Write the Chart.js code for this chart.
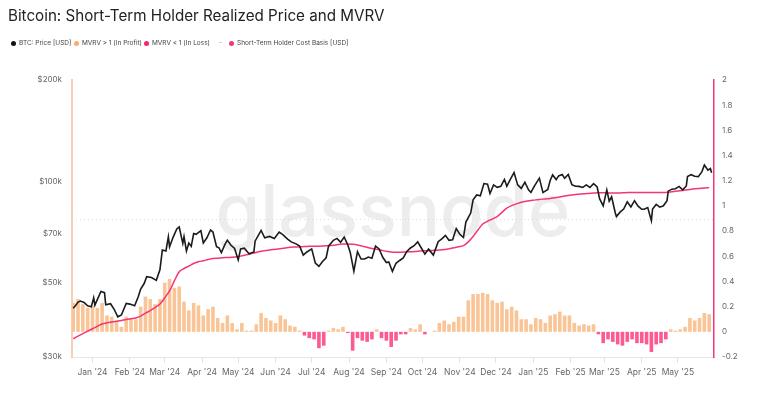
<!DOCTYPE html>
<html>
<head>
<meta charset="utf-8">
<script src="https://cdn.jsdelivr.net/npm/chart.js@4.4.1/dist/chart.umd.min.js"></script>
<style>
  html, body { margin: 0; padding: 0; background: #fff; }
  body { width: 758px; height: 396px; position: relative; overflow: hidden; font-family: Inter, "Open Sans", sans-serif; }
  #chart { position: absolute; left: 0; top: 0; }
  #title { position: absolute; left: 8px; top: 6px; font-size: 15.2px; color: #222; white-space: nowrap; }
  #legend { position: absolute; left: 0; top: 39px; font-size: 6.5px; color: #444; }
  .item { position: absolute; top: 0; white-space: nowrap; display: flex; align-items: center; height: 8px; }
  .dot { width: 5px; height: 5px; border-radius: 50%; margin-right: 3px; }
</style>
</head>
<body>
<canvas id="chart" width="758" height="396"></canvas>
<div id="title">Bitcoin: Short-Term Holder Realized Price and MVRV</div>
<div id="legend">
  <div class="item" style="left:11px"><span class="dot" style="background:#111"></span>BTC: Price [USD]</div>
  <div class="item" style="left:74px"><span class="dot" style="background:#f7ae6b"></span>MVRV &gt; 1 (In Profit)</div>
  <div class="item" style="left:144px"><span class="dot" style="background:#ff1f6e"></span>MVRV &lt; 1 (In Loss)</div>
  <div class="item" style="left:219px"><span style="margin-right:7px;color:#888">-</span><span class="dot" style="background:#f2357c"></span>Short-Term Holder Cost Basis [USD]</div>
</div>
<script>
// Day 0 = 16 Dec 2023. Prices in USD thousands.
const priceDays = [
  0, 2, 4, 6, 9, 12, 15, 17, 18, 23, 26, 27, 31, 34, 37, 40, 44, 47, 51, 54,
  56, 59, 61, 65, 69, 72, 74, 77, 79, 80, 83, 86, 88, 91, 92, 94, 96, 98, 100, 102,
  106, 108, 111, 114, 116, 119, 121, 123, 126, 128, 131, 134, 137, 139, 142, 146, 150, 151, 156, 159,
  163, 167, 171, 174, 178, 181, 185, 188, 191, 194, 198, 201, 204, 207, 210, 212, 216, 219, 222, 225,
  228, 230, 233, 236, 239, 242, 245, 248, 251, 254, 257, 260, 262, 265, 268, 271, 274, 277, 280, 283,
  286, 289, 292, 295, 299, 303, 306, 309, 312, 315, 318, 321, 324, 326, 330, 332, 335, 338, 341, 344,
  346, 349, 352, 355, 358, 360, 363, 366, 369, 372, 375, 378, 380, 383, 387, 390, 394, 396, 398, 401,
  403, 406, 408, 411, 414, 417, 420, 423, 426, 429, 432, 435, 437, 440, 443, 445, 447, 450, 451, 454,
  457, 460, 463, 466, 469, 472, 474, 477, 480, 481, 484, 487, 490, 493, 494, 497, 500, 503, 506, 509,
  510, 513, 516, 519, 522, 524, 527, 529, 530
];
const priceValues = [
  41.9, 42.7, 43.7, 44.0, 43.6, 42.6, 42.3, 45.0, 42.8, 47.0, 46.6, 42.9, 43.2, 41.6, 39.5, 40.0, 43.3, 43.1, 42.6, 45.3,
  47.8, 49.7, 52.0, 51.7, 50.7, 54.5, 62.4, 62.0, 68.3, 63.8, 68.2, 72.1, 73.1, 65.3, 68.4, 62.0, 65.5, 64.0, 69.9, 69.5,
  71.3, 65.5, 67.9, 71.6, 70.6, 63.9, 63.4, 61.3, 64.9, 66.8, 64.5, 63.1, 58.3, 62.9, 63.2, 60.8, 61.6, 66.3, 71.4, 67.9,
  68.5, 67.5, 70.6, 69.4, 67.3, 66.0, 65.1, 64.1, 60.3, 61.6, 62.9, 57.1, 55.8, 57.7, 59.2, 64.1, 66.7, 67.6, 65.8, 68.2,
  64.6, 61.4, 54.0, 61.7, 58.7, 58.7, 59.5, 59.0, 64.1, 62.9, 59.4, 57.3, 57.5, 53.9, 57.0, 58.1, 59.1, 61.8, 63.3, 64.3,
  66.0, 63.3, 60.7, 62.8, 60.3, 66.1, 67.4, 69.0, 66.7, 67.0, 72.3, 69.5, 68.0, 75.6, 80.4, 88.0, 91.0, 90.5, 98.4, 98.0,
  91.9, 97.5, 95.9, 96.6, 101.2, 96.6, 101.4, 106.1, 97.5, 95.2, 99.3, 94.3, 92.6, 96.9, 102.1, 92.5, 94.5, 100.5, 104.4, 101.1,
  103.7, 104.7, 102.0, 104.7, 97.7, 96.6, 96.5, 95.8, 97.5, 95.8, 98.3, 96.1, 88.7, 84.4, 94.2, 87.2, 89.9, 80.6, 78.5, 80.9,
  82.6, 86.8, 83.8, 87.5, 84.3, 82.5, 82.5, 83.5, 76.3, 82.6, 85.3, 83.7, 84.5, 87.5, 93.4, 94.7, 95.0, 96.5, 94.3, 96.8,
  103.2, 104.6, 103.5, 103.2, 106.8, 111.7, 107.8, 109.0, 106.0
];

// Cost basis and MVRV bars sampled every 4 days from day 0.
const sampleStep = 4;
const costValues = [
  34.0, 34.6, 35.2, 35.8, 36.4, 37.0, 37.6, 37.9, 38.1, 38.3,
  38.5, 38.8, 39.0, 39.2, 39.7, 40.5, 41.2, 42.1, 43.1, 45.0,
  47.2, 50.5, 53.8, 55.0, 55.9, 56.9, 57.6, 58.0, 58.5, 58.9,
  59.0, 59.2, 59.3, 59.4, 59.6, 60.0, 60.4, 60.9, 61.4, 61.9,
  62.2, 62.5, 62.8, 63.0, 63.3, 63.6, 63.7, 63.8, 63.9, 64.0,
  64.1, 64.1, 64.2, 64.3, 64.5, 64.8, 65.0, 65.1, 64.9, 64.6,
  64.1, 63.6, 63.1, 62.7, 62.3, 61.9, 61.6, 61.5, 61.5, 61.6,
  61.7, 61.8, 62.0, 62.1, 62.2, 62.3, 62.4, 62.6, 63.0, 63.4,
  63.8, 64.3, 66.0, 68.5, 71.6, 74.6, 76.0, 77.2, 78.5, 80.8,
  83.2, 84.6, 85.6, 86.6, 87.2, 87.6, 88.0, 88.3, 88.6, 88.9,
  89.3, 89.8, 90.3, 90.8, 91.2, 91.5, 91.8, 92.0, 92.2, 92.4,
  92.4, 92.3, 92.2, 92.2, 92.4, 92.5, 92.6, 92.6, 92.6, 92.6,
  92.6, 92.6, 92.6, 92.6, 92.9, 93.3, 93.7, 94.1, 94.5, 94.9,
  95.2, 95.5, 95.7
];
const mvrvValues = [
  0.23, 0.26, 0.22, 0.19, 0.21, 0.19, 0.23, 0.13, 0.12, 0.09,
  0.04, 0.12, 0.11, 0.10, 0.20, 0.28, 0.26, 0.22, 0.26, 0.39,
  0.42, 0.35, 0.36, 0.24, 0.17, 0.23, 0.21, 0.13, 0.18, 0.20,
  0.11, 0.07, 0.13, 0.07, 0.02, 0.07, 0.01, 0.01, 0.06, 0.15,
  0.11, 0.09, 0.07, 0.13, 0.10, 0.05, 0.04, 0.01, -0.03, -0.05,
  -0.06, -0.13, -0.11, 0.01, 0.03, 0.02, 0.04, -0.01, -0.15, -0.05,
  -0.07, -0.08, -0.06, 0.02, -0.05, -0.07, -0.12, -0.07, -0.02, -0.02,
  0.03, 0.02, 0.06, -0.02, 0.00, 0.01, 0.07, 0.09, 0.06, 0.08,
  0.12, 0.12, 0.25, 0.30, 0.30, 0.31, 0.30, 0.25, 0.23, 0.24,
  0.18, 0.20, 0.17, 0.10, 0.10, 0.06, 0.11, 0.10, 0.07, 0.13,
  0.14, 0.16, 0.13, 0.13, 0.07, 0.05, 0.06, 0.05, 0.06, -0.02,
  -0.09, -0.06, -0.08, -0.10, -0.11, -0.08, -0.06, -0.09, -0.09, -0.10,
  -0.16, -0.10, -0.09, -0.06, 0.02, 0.01, 0.02, 0.04, 0.11, 0.09,
  0.11, 0.15, 0.14
];

// axis ticks
const tickDays = [16, 47, 76, 107, 137, 168, 198, 229, 260, 290, 321, 351, 382, 413, 441, 472, 502];
const tickLabels = ["Jan '24", "Feb '24", "Mar '24", "Apr '24", "May '24", "Jun '24", "Jul '24", "Aug '24", "Sep '24",
  "Oct '24", "Nov '24", "Dec '24", "Jan '25", "Feb '25", "Mar '25", "Apr '25", "May '25"];
const leftTicks = [30, 50, 70, 100, 200];
const rightTicks = [-0.2, 0, 0.2, 0.4, 0.6, 0.8, 1, 1.2, 1.4, 1.6, 1.8, 2];
const guideLevel = 0.9;

const pricePoints = priceDays.map((d, i) => ({ x: d, y: priceValues[i] }));
const costPoints = costValues.map((v, i) => ({ x: i * sampleStep, y: v }));
const profitPoints = mvrvValues.map((v, i) => ({ x: i * sampleStep, y: v >= 0 ? v : null }));
const lossPoints = mvrvValues.map((v, i) => ({ x: i * sampleStep, y: v < 0 ? v : null }));

const watermark = {
  id: 'watermark',
  beforeDatasetsDraw(chart) {
    const { ctx, chartArea: a } = chart;
    ctx.save();
    ctx.font = '500 72px Inter, sans-serif';
    ctx.fillStyle = '#ededed';
    ctx.textAlign = 'center';
    ctx.textBaseline = 'alphabetic';
    ctx.fillText('glassnode', (a.left + a.right) / 2, (a.top + a.bottom) / 2 + 17);
    // faint dotted guide
    const y = Math.round(chart.scales.y1.getPixelForValue(guideLevel)) + 0.5;
    ctx.strokeStyle = '#dcdcdc';
    ctx.lineWidth = 1;
    ctx.setLineDash([1, 3]);
    ctx.beginPath();
    ctx.moveTo(a.left, y);
    ctx.lineTo(a.right, y);
    ctx.stroke();
    ctx.restore();
  }
};

const axisFont = { family: 'Inter, sans-serif', size: 8 };

new Chart(document.getElementById('chart'), {
  type: 'bar',
  data: {
    datasets: [
      { type: 'line', label: 'BTC: Price [USD]', data: pricePoints, yAxisID: 'y',
        borderColor: '#1b1b1b', borderWidth: 1.6, pointRadius: 0, tension: 0, order: 1 },
      { type: 'line', label: 'Short-Term Holder Cost Basis [USD]', data: costPoints, yAxisID: 'y',
        borderColor: '#f2357c', borderWidth: 1.5, pointRadius: 0, tension: 0.3, order: 2 },
      { type: 'bar', label: 'MVRV > 1 (In Profit)', data: profitPoints, yAxisID: 'y1',
        backgroundColor: '#f9c597', grouped: false, barPercentage: 1, categoryPercentage: 0.75, order: 3 },
      { type: 'bar', label: 'MVRV < 1 (In Loss)', data: lossPoints, yAxisID: 'y1',
        backgroundColor: '#fc5a93', grouped: false, barPercentage: 1, categoryPercentage: 0.75, order: 3 }
    ]
  },
  options: {
    responsive: false,
    animation: false,
    layout: { padding: { top: 80, left: 0, right: 0, bottom: 0 } },
    plugins: { legend: { display: false }, tooltip: { enabled: false } },
    scales: {
      x: {
        type: 'linear', min: -1, max: 532, offset: false,
        afterBuildTicks: s => { s.ticks = tickDays.map(v => ({ value: v })); },
        afterFit: s => { s.height = 39; },
        grid: { drawOnChartArea: false, drawTicks: true, tickLength: 6, tickColor: '#e3e3e3', offset: false },
        border: { display: true, color: '#e6e6e6' },
        ticks: { autoSkip: false, maxRotation: 0, padding: 4, color: '#666', font: { family: 'Inter, sans-serif', size: 8.5 },
          callback: (v, i) => tickLabels[i] }
      },
      y: {
        type: 'logarithmic', position: 'left', min: 30, max: 200,
        afterBuildTicks: s => { s.ticks = leftTicks.map(v => ({ value: v })); },
        afterFit: s => { s.width = 72; },
        grid: { display: false, drawTicks: false },
        border: { display: true, color: '#f9cfb1', width: 2 },
        ticks: { padding: 10, color: '#666', font: axisFont, callback: v => '$' + v + 'k' }
      },
      y1: {
        type: 'linear', position: 'right', min: -0.2, max: 2,
        afterBuildTicks: s => { s.ticks = rightTicks.map(v => ({ value: v })); },
        afterFit: s => { s.width = 44; },
        grid: { display: false, drawTicks: false },
        border: { display: true, color: '#f2357c', width: 1.5 },
        ticks: { padding: 8, color: '#666', font: axisFont, callback: v => String(v) }
      }
    }
  },
  plugins: [watermark]
});
</script>
</body>
</html>
